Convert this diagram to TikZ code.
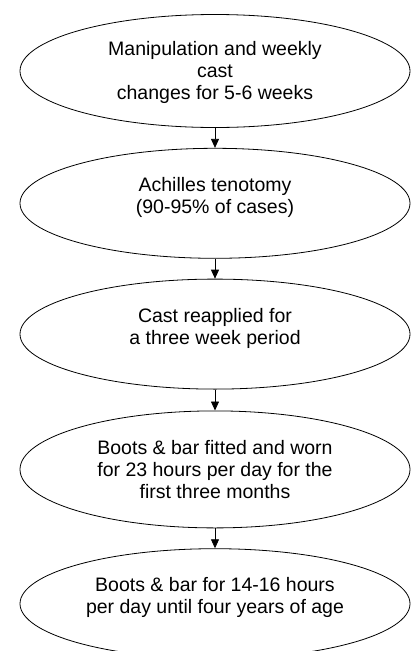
\documentclass[tikz,border=0pt]{standalone}
\usepackage{fontspec}
\setmainfont{Liberation Sans}
\usepackage{tikz}
\usetikzlibrary{shapes.geometric,arrows.meta,positioning}

\tikzset{
  stage/.style={ellipse, draw, line width=0.8pt, minimum width=390pt, minimum height=110pt, inner sep=0pt},
  stagetext/.style={align=center, font=\fontsize{19.5}{22}\selectfont}
}

\begin{document}
\begin{tikzpicture}[x=1pt, y=-1pt, >={Triangle[length=9pt,width=8pt]}, node distance=20pt, line width=0.8pt]
    \useasboundingbox (0,0) rectangle (417,651);

    \node[stage, minimum height=113pt]            (manip)                  at (215,71) {};
    \node[stage]                                  (tenotomy) [below=of manip]          {};
    \node[stage]                                  (recast)   [below=of tenotomy]       {};
    \node[stage, minimum height=117pt]            (bootsA)   [below=21pt of recast]    {};
    \node[stage]                                  (bootsB)   [below=of bootsA]         {};

    % texts
    \node[stagetext] (manipText)    at ([yshift=-1pt]manip.center)   {Manipulation and weekly\\cast\\changes for 5-6 weeks};
    \node[stagetext] (tenotomyText) at ([yshift=6pt]tenotomy.center) {Achilles tenotomy\\(90-95\% of cases)};
    \node[stagetext] (recastText)   at ([yshift=6pt]recast.center)   {Cast reapplied for\\a three week period};
    \node[stagetext] (bootsAText)   at (bootsA.center)               {Boots \& bar fitted and worn\\for 23 hours per day for the\\first three months};
    \node[stagetext] (bootsBText)   at ([yshift=6pt]bootsB.center)   {Boots \& bar for 14-16 hours\\per day until four years of age};

    \path[->]   (manip)    edge (tenotomy)
                (tenotomy) edge (recast)
                (recast)   edge (bootsA)
                (bootsA)   edge (bootsB);
\end{tikzpicture}
\end{document}
